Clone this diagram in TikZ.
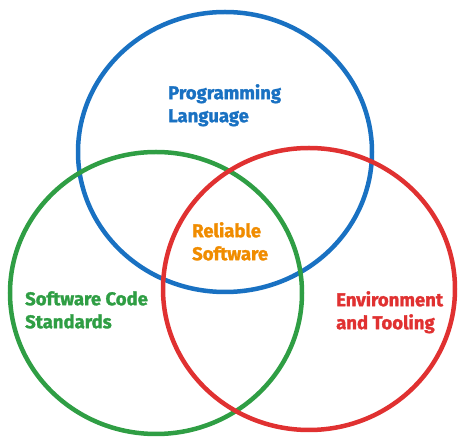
\documentclass[tikz,border=0pt]{standalone}
\usepackage{fontspec}
\setmainfont{Fira Sans}[BoldFeatures={FakeBold=1.5}]
\usetikzlibrary{shapes.geometric}
\definecolor{cblue}{HTML}{1971C2}
\definecolor{cgreen}{HTML}{2F9E44}
\definecolor{cred}{HTML}{E03131}
\definecolor{corange}{HTML}{F08C00}

\begin{document}
\begin{tikzpicture}[
  x=1pt,y=-1pt,
  font=\fontsize{18.5}{23}\selectfont\bfseries,
  ring/.style={draw,ellipse,line width=4.5pt,inner sep=0pt},
  lbl/.style={anchor=north west,align=left,inner sep=0pt}]
  \useasboundingbox (0,0) rectangle (464,443);
  \node[ring,cblue,minimum width=294pt,minimum height=280pt] (lang) at (225,152) {};
  \node[ring,cgreen,minimum width=292pt,minimum height=282pt] (std) at (156,293) {};
  \node[ring,cred,minimum width=292pt,minimum height=282pt] (env) at (309,289) {};
  \node[lbl,text=cblue] (langtxt) at (168,84) {Programming\\Language};
  \node[lbl,text=corange] (reltxt) at (192,222) {Reliable\\Software};
  \node[lbl,text=cgreen] (stdtxt) at (25,291) {Software Code\\Standards};
  \node[lbl,text=cred] (envtxt) at (336,291) {Environment\\and Tooling};
\end{tikzpicture}
\end{document}
